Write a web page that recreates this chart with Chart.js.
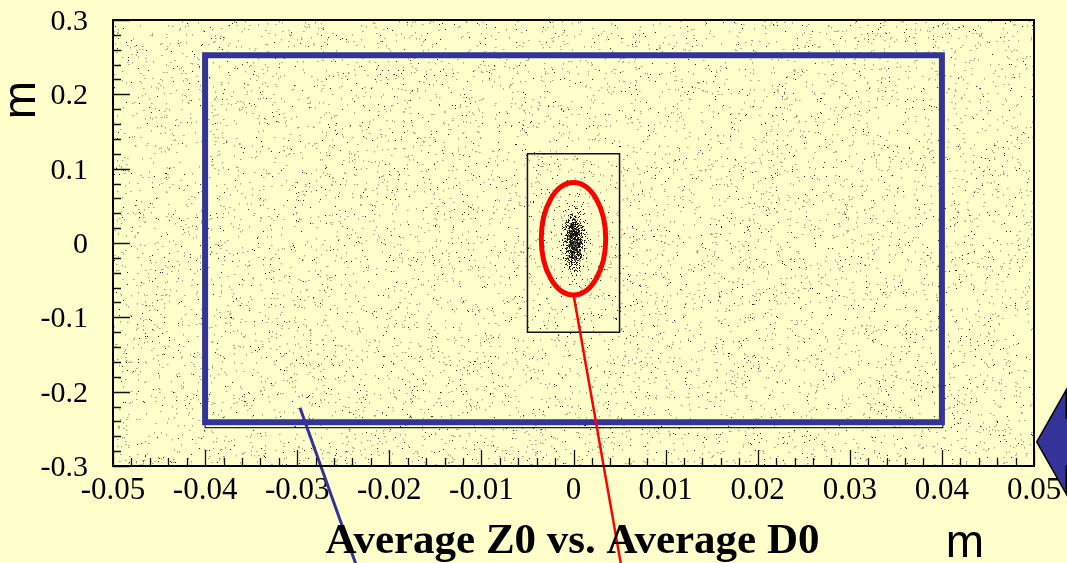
<!DOCTYPE html>
<html>
<head>
<meta charset="utf-8">
<script src="https://cdn.jsdelivr.net/npm/chart.js@4/dist/chart.umd.min.js"></script>
<style>
  html, body { margin: 0; padding: 0; background: #ffffcc; }
  canvas { display: block; }
</style>
</head>
<body>
<canvas id="c" width="1067" height="563"></canvas>
<script>
// Axis ranges (metres)
const xRange = [-0.05, 0.05];
const yRange = [-0.3, 0.3];

// Labelled major ticks and minor tick steps
const xMajorTicks = [-0.05, -0.04, -0.03, -0.02, -0.01, 0, 0.01, 0.02, 0.03, 0.04, 0.05];
const xTickLabels = ['-0.05', '-0.04', '-0.03', '-0.02', '-0.01', '0', '0.01', '0.02', '0.03', '0.04', '0.05'];
const yMajorTicks = [-0.3, -0.2, -0.1, 0, 0.1, 0.2, 0.3];
const yTickLabels = ['-0.3', '-0.2', '-0.1', '0', '0.1', '0.2', '0.3'];
const xMinorStep = 0.002;
const yMinorStep = 0.02;

// Outer acceptance window and the thin frame under it
const outerBoxX = [-0.04, 0.04, 0.04, -0.04, -0.04];
const outerBoxY = [0.2526, 0.2526, -0.2410, -0.2410, 0.2526];
const frameBoxX = [-0.0400, 0.0401, 0.0401, -0.0400, -0.0400];
const frameBoxY = [0.2526, 0.2526, -0.2485, -0.2485, 0.2526];

// Inner window around the beam spot
const innerBoxX = [-0.005, 0.005, 0.005, -0.005, -0.005];
const innerBoxY = [0.12, 0.12, -0.12, -0.12, 0.12];

// Highlight ellipse: centre and semi-axes
const spotCentre = [0.0000, 0.0057];
const spotRadii = [0.0035, 0.0757];

// Beam-spot density: centre and spread
const clusterCentre = [0.0000, 0.0035];
const clusterSpread = [0.00062, 0.021];

// Pointer lines running off the bottom of the page
const bluePointerX = [-0.0297, -0.0234];
const bluePointerY = [-0.2216, -0.4400];
const redPointerX = [0.00005, 0.00526];
const redPointerY = [-0.0727, -0.4400];

// Side arrow: tip, back of head, half-heights, tail
const arrowTip = [0.0503, -0.2677];
const arrowHeadBackX = 0.0535;
const arrowHeadHalf = 0.0700;
const arrowShaftHalf = 0.0325;
const arrowTailX = 0.0600;

const TITLE = 'Average Z0 vs. Average D0';
const AXIS_UNIT = 'm';

const BLUE = '#333399';
const RED = '#ff0000';
const PAPER = [255, 255, 204];
const SERIF = '"Liberation Serif", "Times New Roman", serif';

function pts(xs, ys) {
  return xs.map((x, i) => ({ x, y: ys[i] }));
}

function labelFor(v, majors, labels) {
  const i = majors.findIndex(t => Math.abs(t - v) < 1e-9);
  return i < 0 ? '' : labels[i];
}

// integer hash -> [0,1), used for the stipple texture
function hash(i, j, seed) {
  let h = (Math.imul(i, 374761393) + Math.imul(j, 668265263) + Math.imul(seed, 1274126177)) | 0;
  h = Math.imul(h ^ (h >>> 13), 1103515245);
  h ^= h >>> 16;
  h = Math.imul(h, 2246822519);
  h ^= h >>> 13;
  return (h >>> 0) / 4294967296;
}

// Stippled plot background plus the dense beam spot
const stipple = {
  id: 'stipple',
  beforeDatasetsDraw(chart) {
    const { ctx, chartArea: a, scales: { x, y } } = chart;
    const w = Math.round(a.right - a.left), h = Math.round(a.bottom - a.top);
    if (!this.tex || this.tex.width !== w || this.tex.height !== h) {
      const off = document.createElement('canvas');
      off.width = w; off.height = h;
      const c2 = off.getContext('2d');
      const img = c2.createImageData(w, h);
      const d = img.data;
      const put = (i, j, r, g, b) => {
        if (i < 0 || j < 0 || i >= w || j >= h) return;
        const k = (j * w + i) * 4;
        d[k] = r; d[k + 1] = g; d[k + 2] = b; d[k + 3] = 255;
      };
      for (let j = 0; j < h; j++) {
        for (let i = 0; i < w; i++) {
          const k = (j * w + i) * 4;
          d[k] = PAPER[0]; d[k + 1] = PAPER[1]; d[k + 2] = PAPER[2]; d[k + 3] = 255;
        }
      }
      for (let j = 0; j < h; j++) {
        for (let i = 0; i < w; i++) {
          const r = hash(i, j, 1);
          if (r < 0.0055) {
            put(i, j, 35, 35, 30);
          } else if (r < 0.0215) {
            put(i, j, 165, 163, 135);
            if (r < 0.0135) put(i + 1, j, 200, 198, 165);
            else put(i, j + 1, 200, 198, 165);
          }
        }
      }
      // beam spot
      const cx = x.getPixelForValue(clusterCentre[0]) - a.left;
      const cy = y.getPixelForValue(clusterCentre[1]) - a.top;
      const sx = Math.abs(x.getPixelForValue(clusterCentre[0] + clusterSpread[0]) - x.getPixelForValue(clusterCentre[0]));
      const sy = Math.abs(y.getPixelForValue(clusterCentre[1] + clusterSpread[1]) - y.getPixelForValue(clusterCentre[1]));
      for (let j = Math.floor(cy - 4 * sy); j <= Math.ceil(cy + 4 * sy); j++) {
        for (let i = Math.floor(cx - 4 * sx); i <= Math.ceil(cx + 4 * sx); i++) {
          const dx = (i - cx) / sx, dy = (j - cy) / sy;
          const dens = Math.min(1, 1.3 * Math.exp(-0.5 * (dx * dx + dy * dy)));
          const r = hash(i, j, 7);
          if (r < 0.72 * dens) put(i, j, 20, 20, 20);
          else if (r < 0.94 * dens) put(i, j, 110, 108, 92);
        }
      }
      c2.putImageData(img, 0, 0);
      this.tex = off;
    }
    ctx.drawImage(this.tex, a.left, a.top);
  }
};

// Ellipse around the beam spot and the side arrow
const overlays = {
  id: 'overlays',
  afterDatasetsDraw(chart) {
    const { ctx, scales: { x, y } } = chart;
    ctx.save();
    const ex = x.getPixelForValue(spotCentre[0]);
    const ey = y.getPixelForValue(spotCentre[1]);
    const rx = Math.abs(x.getPixelForValue(spotCentre[0] + spotRadii[0]) - ex);
    const ry = Math.abs(y.getPixelForValue(spotCentre[1] + spotRadii[1]) - ey);
    ctx.beginPath();
    ctx.ellipse(ex, ey, rx, ry, 0, 0, Math.PI * 2);
    ctx.strokeStyle = RED;
    ctx.lineWidth = 5;
    ctx.stroke();

    const P = (vx, vy) => [x.getPixelForValue(vx), y.getPixelForValue(vy)];
    const poly = [
      P(arrowTip[0], arrowTip[1]),
      P(arrowHeadBackX, arrowTip[1] + arrowHeadHalf),
      P(arrowHeadBackX, arrowTip[1] + arrowShaftHalf),
      P(arrowTailX, arrowTip[1] + arrowShaftHalf),
      P(arrowTailX, arrowTip[1] - arrowShaftHalf),
      P(arrowHeadBackX, arrowTip[1] - arrowShaftHalf),
      P(arrowHeadBackX, arrowTip[1] - arrowHeadHalf)
    ];
    ctx.beginPath();
    poly.forEach(([px, py], i) => (i ? ctx.lineTo(px, py) : ctx.moveTo(px, py)));
    ctx.closePath();
    ctx.fillStyle = BLUE;
    ctx.fill();
    ctx.strokeStyle = '#000';
    ctx.lineWidth = 1.5;
    ctx.lineJoin = 'miter';
    ctx.stroke();
    ctx.restore();
  }
};

// Frame, inward tick marks and the titles
const frame = {
  id: 'frame',
  afterDraw(chart) {
    const { ctx, chartArea: a, scales: { x, y } } = chart;
    ctx.save();
    ctx.strokeStyle = '#111';
    ctx.lineWidth = 1.3;
    ctx.beginPath();
    x.ticks.forEach(t => {
      const px = Math.round(x.getPixelForValue(t.value)) + 0.5;
      const len = t.label !== '' ? 16 : 8;
      ctx.moveTo(px, a.bottom);
      ctx.lineTo(px, a.bottom - len);
    });
    y.ticks.forEach(t => {
      const py = Math.round(y.getPixelForValue(t.value)) + 0.5;
      const len = t.label !== '' ? 17 : 8;
      ctx.moveTo(a.left, py);
      ctx.lineTo(a.left + len, py);
    });
    ctx.stroke();

    ctx.lineWidth = 2;
    ctx.strokeStyle = '#000';
    ctx.strokeRect(a.left, a.top, a.right - a.left, a.bottom - a.top);

    ctx.fillStyle = '#000';
    ctx.textBaseline = 'alphabetic';
    ctx.textAlign = 'center';
    ctx.font = 'bold 43px ' + SERIF;
    ctx.fillText(TITLE, (a.left + a.right) / 2 - 1, a.bottom + 87);

    ctx.font = '46px "Liberation Sans", Arial, sans-serif';
    ctx.fillText(AXIS_UNIT, a.right - 69, a.bottom + 91);

    ctx.translate(35, a.top + 80);
    ctx.rotate(-Math.PI / 2);
    ctx.fillText(AXIS_UNIT, 0, 0);
    ctx.restore();
  }
};

const lineBase = {
  showLine: true,
  fill: false,
  tension: 0,
  pointRadius: 0,
  pointHoverRadius: 0,
  borderJoinStyle: 'miter'
};

new Chart(document.getElementById('c'), {
  type: 'scatter',
  data: {
    datasets: [
      Object.assign({}, lineBase, { data: pts(redPointerX, redPointerY), borderColor: RED, borderWidth: 2.5, borderCapStyle: 'butt', clip: false, order: 0 }),
      Object.assign({}, lineBase, { data: pts(bluePointerX, bluePointerY), borderColor: BLUE, borderWidth: 3, borderCapStyle: 'butt', clip: false, order: 1 }),
      Object.assign({}, lineBase, { data: pts(innerBoxX, innerBoxY), borderColor: '#111', borderWidth: 1.5, borderCapStyle: 'square', order: 2 }),
      Object.assign({}, lineBase, { data: pts(outerBoxX, outerBoxY), borderColor: BLUE, borderWidth: 6, borderCapStyle: 'square', order: 3 }),
      Object.assign({}, lineBase, { data: pts(frameBoxX, frameBoxY), borderColor: '#222', borderWidth: 1.2, borderCapStyle: 'square', order: 4 })
    ]
  },
  options: {
    responsive: false,
    animation: false,
    devicePixelRatio: 1,
    events: [],
    layout: { padding: { left: 0, top: 20, right: 33, bottom: 0 } },
    plugins: {
      legend: { display: false },
      tooltip: { enabled: false },
      title: { display: false }
    },
    scales: {
      x: {
        type: 'linear',
        min: xRange[0],
        max: xRange[1],
        afterFit(s) { s.height = 97; s.paddingLeft = 0; s.paddingRight = 0; },
        grid: { display: false, drawTicks: false },
        border: { display: false },
        ticks: {
          stepSize: xMinorStep,
          autoSkip: false,
          maxRotation: 0,
          minRotation: 0,
          padding: 6,
          color: '#000',
          font: { family: SERIF, size: 31 },
          callback: v => labelFor(v, xMajorTicks, xTickLabels)
        }
      },
      y: {
        type: 'linear',
        min: yRange[0],
        max: yRange[1],
        afterFit(s) { s.width = 113; s.paddingTop = 0; s.paddingBottom = 0; },
        grid: { display: false, drawTicks: false },
        border: { display: false },
        ticks: {
          stepSize: yMinorStep,
          autoSkip: false,
          padding: 25,
          labelOffset: 2,
          color: '#000',
          font: { family: SERIF, size: 30 },
          callback: v => labelFor(v, yMajorTicks, yTickLabels)
        }
      }
    }
  },
  plugins: [stipple, overlays, frame]
});
</script>
</body>
</html>
